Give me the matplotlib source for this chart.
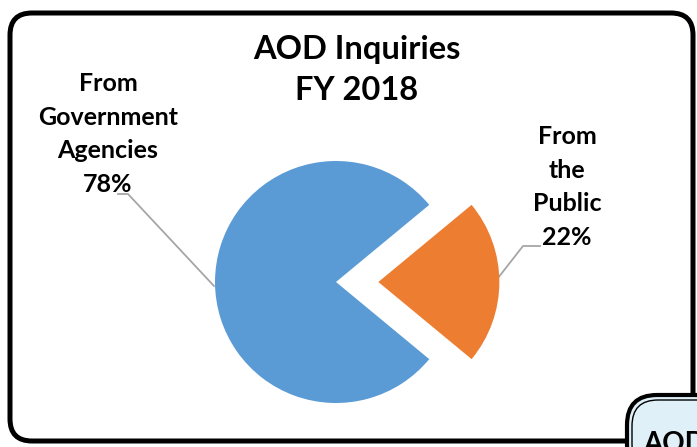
import matplotlib
matplotlib.use("Agg")
import matplotlib.pyplot as plt
from matplotlib.patches import FancyBboxPatch

categories = ["From the\nPublic", "From\nGovernment\nAgencies"]
values = [22, 78]
colors = ["#ed7d31", "#5b9bd5"]
title = "AOD Inquiries\nFY 2018"

W, H = 697, 447
fig = plt.figure(figsize=(W / 100, H / 100), dpi=100)
plt.rcParams['font.family'] = ['Lato', 'DejaVu Sans']

# overlay axes in pixel coordinates
bg = fig.add_axes([0, 0, 1, 1], zorder=0)
bg.set_xlim(0, W)
bg.set_ylim(H, 0)
bg.axis('off')

frame = FancyBboxPatch((10, 13), 683, 428, boxstyle="round,pad=0,rounding_size=22",
                       fc="white", ec="black", lw=3.6)
bg.add_patch(frame)

box = FancyBboxPatch((627, 395), 110, 80, boxstyle="round,pad=0,rounding_size=30",
                     fc="#dff0f8", ec="black", lw=3.0)
bg.add_patch(box)
box2 = FancyBboxPatch((632, 400), 100, 70, boxstyle="round,pad=0,rounding_size=26",
                      fc="#dff0f8", ec="black", lw=1.0)
bg.add_patch(box2)
bg.text(643, 452, "AOD", fontsize=20, fontweight='bold', ha='left', va='baseline')

bg.text(357, 70, title, fontsize=23.5, fontweight='bold', ha='center', va='center',
        linespacing=1.5)

# pie
cx, cy, R = 336, 282, 121
half = 150
pax = fig.add_axes([(cx - half) / W, (H - cy - half) / H, 2 * half / W, 2 * half / H], zorder=1)
pax.patch.set_alpha(0)
wedges, _ = pax.pie(values, colors=colors, startangle=-values[0] / 100 * 180,
                    counterclock=True, explode=[0.35, 0], radius=1,
                    wedgeprops=dict(linewidth=0))
pax.set_xlim(-half / R, half / R)
pax.set_ylim(-half / R, half / R)
pax.set_aspect('equal')
pax.axis('off')

# labels
lbl_pub = categories[0].replace(" ", "\n") + "\n%d%%" % values[0]
lbl_gov = categories[1] + "\n%d%%" % values[1]
bg.text(108, 134, lbl_gov, fontsize=18, fontweight='bold', ha='center', va='center',
        linespacing=1.55)
bg.text(567, 187, lbl_pub, fontsize=18, fontweight='bold', ha='center', va='center',
        linespacing=1.55)

lc = "#a6a6a6"
bg.plot([118, 128, 214], [194, 194, 286], color=lc, lw=1.3)
bg.plot([498, 523, 540], [278, 246, 246], color=lc, lw=1.3)

fig.savefig("out.png", dpi=100)
